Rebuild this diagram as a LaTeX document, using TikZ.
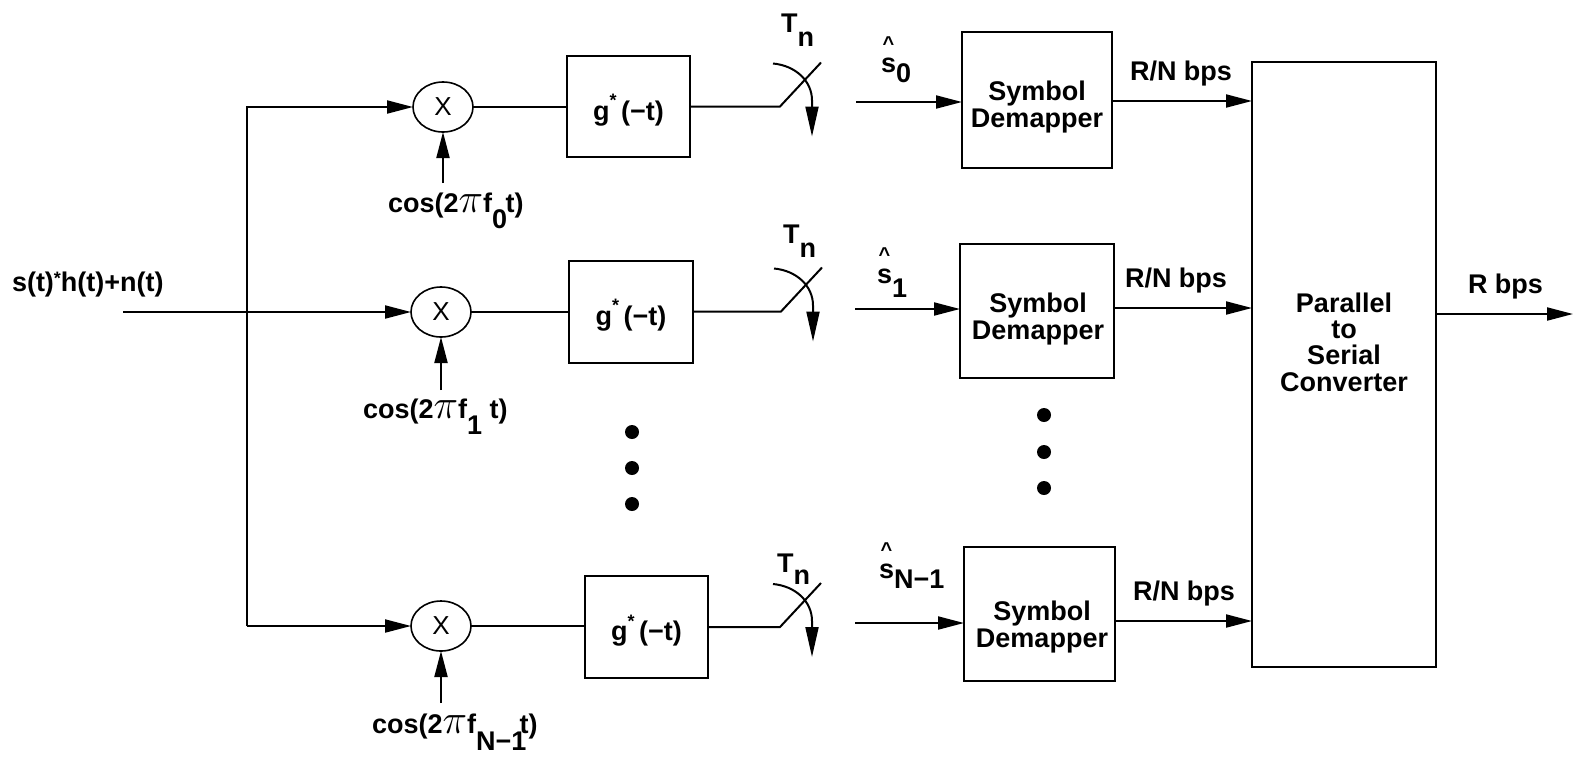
\documentclass[tikz,border=0pt]{standalone}
\usepackage{fontspec}
\setmainfont{Liberation Sans}
\usetikzlibrary{arrows.meta,shapes.geometric,calc}
\newcommand\gtxt{g\raisebox{0.5em}{\fontsize{9}{9}\selectfont *}\,(−t)}
\newcommand\shat{\rlap{\makebox[0.556em]{\raisebox{11pt}{\fontsize{10}{10}\selectfont\char`\^}}}s}
\newcommand\bigpi{{\fontsize{21}{21}\selectfont$\pi$}}
\begin{document}
\begin{tikzpicture}[x=0.5pt,y=-0.5pt, line width=1pt,
  every node/.style={inner sep=0pt, outer sep=0pt},
  txt/.style={font=\fontsize{13.5}{13.2}\selectfont\bfseries},
  blk/.style={draw, rectangle, line width=1pt},
  mix/.style={draw, ellipse, minimum width=30pt, minimum height=25pt, line width=0.8pt, font=\fontsize{13}{13}\selectfont},
  arr/.style={-{Triangle[length=13pt,width=6.5pt]}},
  swarr/.style={-{Triangle[length=15pt,width=6.5pt]}},
  bigdot/.style={fill, circle, minimum size=7pt}
]
\useasboundingbox (0,0) rectangle (1573,756);

% input
\node[txt, anchor=base west] (inlbl) at (12,291) {s(t)\raisebox{0.25em}{\fontsize{9}{9}\selectfont *}h(t)+n(t)};
\coordinate (in) at (123,312);
\coordinate (br1) at (247,107);
\coordinate (br3) at (247,626);

% mixers
\node[mix] (m1) at (443,107) {X};
\node[mix] (m2) at (441,312) {X};
\node[mix] (m3) at (441,626) {X};

\draw[arr] (in) -- (m2);
\draw[arr] (br3) -- (br1) -- (m1);
\draw[arr] (br3) -- (m3);

% cosine inputs
\coordinate (c1) at (443,183);
\coordinate (c2) at (441,390);
\coordinate (c3) at (441,703);
\draw[arr] (c1) -- (m1);
\draw[arr] (c2) -- (m2);
\draw[arr] (c3) -- (m3);
\node[txt, anchor=base west] (cl1) at (388,212) {cos(2\bigpi f\raisebox{-8pt}{0}\hspace{-0.05em}t)};
\node[txt, anchor=base west] (cl2) at (363,418) {cos(2\bigpi f\raisebox{-8pt}{1} t)};
\node[txt, anchor=base west] (cl3) at (372,733) {cos(2\bigpi f\raisebox{-8.5pt}{N−1}\hspace{-0.25em}t)};

% matched filters
\node[blk, minimum width=61.5pt, minimum height=50.5pt] (g1) at (628.5,106.5) {};
\node[blk, minimum width=62pt, minimum height=51pt] (g2) at (631,311.5) {};
\node[blk, minimum width=61.5pt, minimum height=51pt] (g3) at (646.5,627) {};
\node[txt] (g1t) at (628.5,110) {\gtxt};
\node[txt] (g2t) at (631,315) {\gtxt};
\node[txt] (g3t) at (646.5,630.5) {\gtxt};
\draw (m1) -- (m1 -| g1.west);
\draw (m2) -- (m2 -| g2.west);
\draw (m3) -- (m3 -| g3.west);

% samplers
\coordinate (sw1) at (780,106.5);
\coordinate (sw2) at (781,311.5);
\coordinate (sw3) at (780,627);
\foreach \s in {1,2,3}{
  \draw (g\s.east |- sw\s) -- (sw\s) -- ++(41,-44);
  \draw[swarr] ($(sw\s)+(-7,-43)$) .. controls +(22,2) and +(0,-20) .. ($(sw\s)+(32,-6)$) -- ($(sw\s)+(32,30)$);
}
\node[txt, anchor=base west] (tn1) at (781,32) {T\raisebox{-7pt}{n}};
\node[txt, anchor=base west] (tn2) at (783,243) {T\raisebox{-7pt}{n}};
\node[txt, anchor=base west] (tn3) at (777,572) {T\raisebox{-6pt}{n}};

% demappers
\node[blk, minimum width=75pt, minimum height=68pt] (d1) at (1037,100) {};
\node[blk, minimum width=77pt, minimum height=67pt] (d2) at (1037,311) {};
\node[blk, minimum width=75.5pt, minimum height=67pt] (d3) at (1039.5,614) {};
\node[txt, align=center] (d1t) at (1037,107) {Symbol\\Demapper};
\node[txt, align=center] (d2t) at (1038,319) {Symbol\\Demapper};
\node[txt, align=center] (d3t) at (1042,627) {Symbol\\Demapper};

\coordinate (a1) at (856,102);
\coordinate (a2) at (855,309);
\coordinate (a3) at (855,623);
\draw[arr] (a1) -- (d1.west |- a1);
\draw[arr] (a2) -- (d2.west |- a2);
\draw[arr] (a3) -- (d3.west |- a3);
\node[txt, anchor=base west] (sh1) at (881,72) {\shat\raisebox{-5pt}{0}};
\node[txt, anchor=base west] (sh2) at (877,283) {\shat\raisebox{-7pt}{1}};
\node[txt, anchor=base west] (sh3) at (879,578) {\shat\raisebox{-5pt}{N−1}};

% parallel to serial
\node[blk, minimum width=92pt, minimum height=302.5pt] (ps) at (1344,364.5) {};
\node[txt, align=center] (pst) at (1344,342) {Parallel\\to\\Serial\\Converter};

\coordinate (r1) at (0,101);
\coordinate (r2) at (0,308);
\coordinate (r3) at (0,621);
\draw[arr] (d1.east |- r1) -- (ps.west |- r1);
\draw[arr] (d2.east |- r2) -- (ps.west |- r2);
\draw[arr] (d3.east |- r3) -- (ps.west |- r3);
\node[txt, anchor=base west] (rn1) at (1130,80) {R/N bps};
\node[txt, anchor=base west] (rn2) at (1125,287) {R/N bps};
\node[txt, anchor=base west] (rn3) at (1133,600) {R/N bps};

\coordinate (out) at (1573,314);
\draw[arr] (ps.east |- out) -- (out);
\node[txt, anchor=base west] (rb) at (1468,293) {R bps};

% ellipsis dots
\node[bigdot] (dl1) at (632,432) {};
\node[bigdot] (dl2) at (632,468) {};
\node[bigdot] (dl3) at (632,504) {};
\node[bigdot] (dr1) at (1044,415) {};
\node[bigdot] (dr2) at (1044,452) {};
\node[bigdot] (dr3) at (1044,488) {};
\end{tikzpicture}
\end{document}
